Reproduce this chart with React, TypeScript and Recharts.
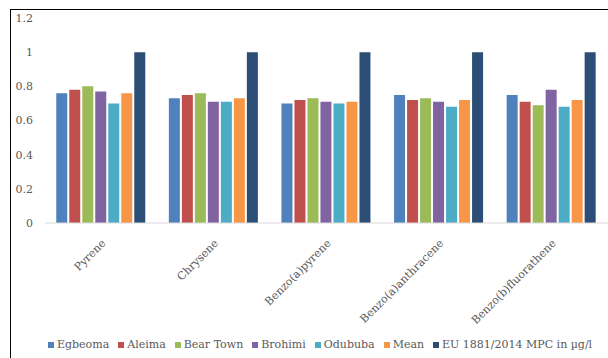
import React from "react";
import { BarChart, Bar, XAxis, YAxis } from "recharts";

const compounds = [
  "Pyrene",
  "Chrysene",
  "Benzo(a)pyrene",
  "Benzo(a)anthracene",
  "Benzo(b)fluorathene",
];

const egbeoma = [0.76, 0.73, 0.7, 0.75, 0.75];
const aleima = [0.78, 0.75, 0.72, 0.72, 0.71];
const bearTown = [0.8, 0.76, 0.73, 0.73, 0.69];
const brohimi = [0.77, 0.71, 0.71, 0.71, 0.78];
const odububa = [0.7, 0.71, 0.7, 0.68, 0.68];
const mean = [0.76, 0.73, 0.71, 0.72, 0.72];
const euLimit = [1, 1, 1, 1, 1];

const yTicks = [0, 0.2, 0.4, 0.6, 0.8, 1, 1.2];

const series = [
  { key: "egbeoma", name: "Egbeoma", values: egbeoma, color: "#4F81BD" },
  { key: "aleima", name: "Aleima", values: aleima, color: "#C0504D" },
  { key: "bearTown", name: "Bear Town", values: bearTown, color: "#9BBB59" },
  { key: "brohimi", name: "Brohimi", values: brohimi, color: "#8064A2" },
  { key: "odububa", name: "Odububa", values: odububa, color: "#4BACC6" },
  { key: "mean", name: "Mean", values: mean, color: "#F79646" },
  { key: "eu", name: "EU 1881/2014 MPC in µg/l", values: euLimit, color: "#2C4D75" },
];

const data = compounds.map((name, i) => {
  const row: Record<string, string | number> = { name };
  series.forEach((s) => {
    row[s.key] = s.values[i];
  });
  return row;
});

const FONT = "'DejaVu Serif', serif";
const TEXT = "#595959";

// category labels sit at 45 degrees, ending just under the group centre
const CompoundTick = ({ x, y, payload }: any) => (
  <text
    x={0}
    y={0}
    transform={`translate(${x + 5},${y + 13}) rotate(-45)`}
    textAnchor="end"
    fill={TEXT}
    fontSize={11}
    fontFamily={FONT}
  >
    {payload.value}
  </text>
);

export default function App() {
  return (
    <div
      style={{
        position: "absolute",
        left: 0,
        top: 0,
        width: 608,
        height: 358,
        overflow: "hidden",
        background: "white",
      }}
    >
      <div
        style={{
          position: "absolute",
          left: 10,
          top: 9,
          width: 640,
          height: 400,
          border: "1.5px solid #000",
        }}
      />
      <div style={{ position: "absolute", left: 0, top: 0 }}>
        <BarChart
          width={608}
          height={358}
          data={data}
          margin={{ top: 18, right: 0, left: 0, bottom: 0 }}
          barCategoryGap="10%"
          barGap={2}
        >
          <XAxis
            dataKey="name"
            height={135}
            interval={0}
            tickLine={false}
            axisLine={{ stroke: "#D9D9D9", strokeWidth: 1 }}
            tick={<CompoundTick />}
          />
          <YAxis
            width={45}
            domain={[0, 1.2]}
            ticks={yTicks}
            axisLine={false}
            tickLine={false}
            tickSize={0}
            tickMargin={12}
            tick={{ fill: TEXT, fontSize: 11, fontFamily: FONT }}
          />
          {series.map((s) => (
            <Bar
              key={s.key}
              dataKey={s.key}
              name={s.name}
              fill={s.color}
              isAnimationActive={false}
            />
          ))}
        </BarChart>
      </div>
      <div
        style={{
          position: "absolute",
          left: 48,
          top: 337,
          display: "flex",
          alignItems: "center",
          gap: 9,
          fontFamily: FONT,
          fontSize: 11,
          color: TEXT,
          whiteSpace: "nowrap",
          lineHeight: "16px",
        }}
      >
        {series.map((s) => (
          <span key={s.key} style={{ display: "flex", alignItems: "center" }}>
            <span
              style={{
                display: "inline-block",
                width: 6,
                height: 6,
                background: s.color,
                marginRight: 3,
              }}
            />
            {s.name}
          </span>
        ))}
      </div>
    </div>
  );
}
